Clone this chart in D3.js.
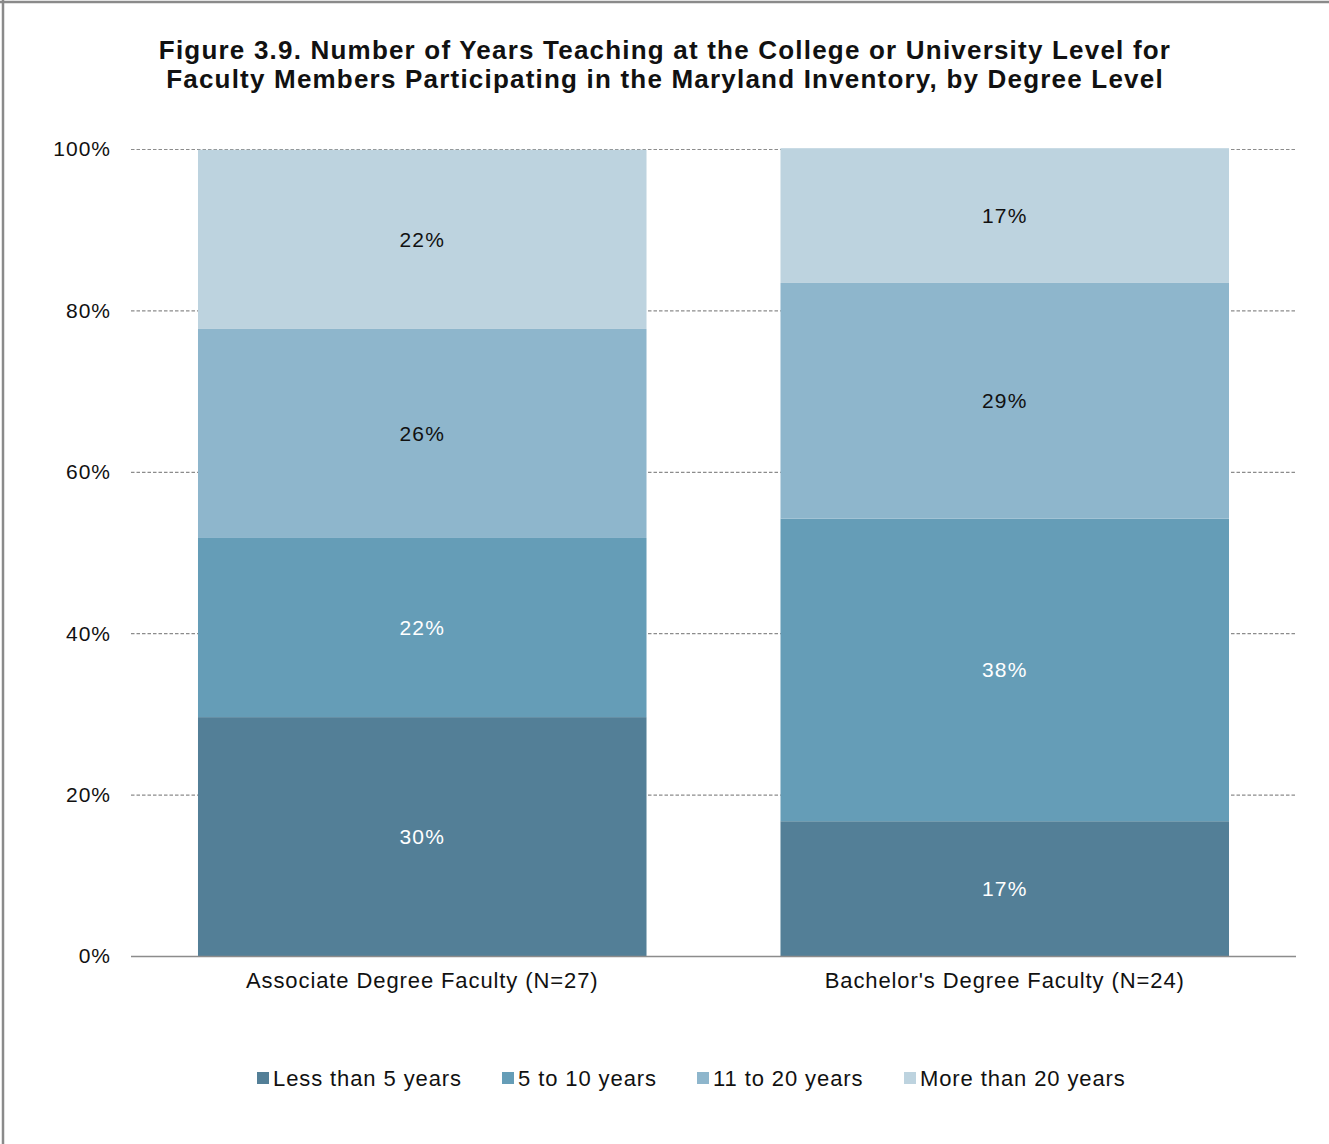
<!DOCTYPE html>
<html>
<head>
<meta charset="utf-8">
<script src="https://cdn.jsdelivr.net/npm/d3@7"></script>
<style>
  html, body { margin: 0; padding: 0; background: #fff; }
  svg { display: block; font-family: "Liberation Sans", Arial, Helvetica, sans-serif; }
</style>
</head>
<body>
<svg id="chart" width="1329" height="1144"></svg>
<script>
const categories = ["Associate Degree Faculty (N=27)", "Bachelor's Degree Faculty (N=24)"];
const seriesNames = ["Less than 5 years", "5 to 10 years", "11 to 20 years", "More than 20 years"];
const lessThan5 = [29.6, 16.7];
const fiveTo10 = [22.2, 37.5];
const elevenTo20 = [25.9, 29.2];
const moreThan20 = [22.2, 16.7];
const yTicks = [0, 20, 40, 60, 80, 100];
const titleLines = [
  "Figure 3.9. Number of Years Teaching at the College or University Level for",
  "Faculty Members Participating in the Maryland Inventory, by Degree Level"
];
const colors = ["#537f97", "#659db7", "#8eb6cc", "#bdd3df"];
const labelColors = ["#ffffff", "#ffffff", "#111111", "#111111"];

const seriesValues = [lessThan5, fiveTo10, elevenTo20, moreThan20];
const rows = categories.map((c, i) => {
  const r = { category: c };
  seriesNames.forEach((s, j) => r[s] = seriesValues[j][i]);
  return r;
});

const svg = d3.select("#chart");

// frame border (top and left visible)
svg.append("line").attr("x1", 0).attr("x2", 1329).attr("y1", 2).attr("y2", 2)
  .attr("stroke", "#8a8a8a").attr("stroke-width", 2.5);
svg.append("line").attr("x1", 3).attr("x2", 3).attr("y1", 0).attr("y2", 1144)
  .attr("stroke", "#8a8a8a").attr("stroke-width", 2.5);

// title
svg.append("text")
  .attr("x", 665).attr("y", 59)
  .attr("text-anchor", "middle")
  .attr("font-size", 26).attr("font-weight", "bold").attr("fill", "#111")
  .attr("letter-spacing", 1.2)
  .selectAll("tspan").data(titleLines).join("tspan")
  .attr("x", 665).attr("dy", (d, i) => i === 0 ? 0 : 29)
  .text(d => d);

const plotLeft = 131, plotRight = 1296, plotTop = 149, plotBottom = 956;

const x = d3.scaleBand().domain(categories).range([plotLeft, plotRight])
  .paddingInner(0.23).paddingOuter(0.115);
const y = d3.scaleLinear().domain([0, 100]).range([plotBottom, plotTop]);

// gridlines
svg.append("g").selectAll("line").data(yTicks.filter(d => d > 0)).join("line")
  .attr("x1", plotLeft).attr("x2", plotRight)
  .attr("y1", d => y(d) + 0.5).attr("y2", d => y(d) + 0.5)
  .attr("stroke", "#8c8c8c").attr("stroke-width", 1.2)
  .attr("stroke-dasharray", "3.5,2");

// y tick labels
svg.append("g").selectAll("text").data(yTicks).join("text")
  .attr("x", 111).attr("y", d => y(d))
  .attr("dy", "0.35em")
  .attr("text-anchor", "end")
  .attr("font-size", 21).attr("letter-spacing", 1).attr("fill", "#111")
  .text(d => d + "%");

// stacked bars
const stack = d3.stack().keys(seriesNames);
const stacked = stack(rows);

const layers = svg.append("g").selectAll("g").data(stacked).join("g")
  .attr("fill", (d, i) => colors[i]);
layers.selectAll("rect").data(d => d).join("rect")
  .attr("x", d => x(d.data.category))
  .attr("width", x.bandwidth())
  .attr("y", d => y(d[1]))
  .attr("height", d => y(d[0]) - y(d[1]));

// value labels
const labelLayers = svg.append("g").selectAll("g").data(stacked).join("g")
  .attr("fill", (d, i) => labelColors[i]);
labelLayers.selectAll("text").data(d => d).join("text")
  .attr("x", d => x(d.data.category) + x.bandwidth() / 2)
  .attr("y", d => y((d[0] + d[1]) / 2))
  .attr("dy", "0.35em")
  .attr("text-anchor", "middle")
  .attr("font-size", 21).attr("letter-spacing", 1.1)
  .text(d => Math.round(d[1] - d[0]) + "%");

// baseline axis
svg.append("line").attr("x1", plotLeft).attr("x2", plotRight)
  .attr("y1", plotBottom + 0.5).attr("y2", plotBottom + 0.5)
  .attr("stroke", "#8c8c8c").attr("stroke-width", 1.5);

// category labels
svg.append("g").selectAll("text").data(categories).join("text")
  .attr("x", d => x(d) + x.bandwidth() / 2)
  .attr("y", 980).attr("dy", "0.35em")
  .attr("text-anchor", "middle")
  .attr("font-size", 22).attr("letter-spacing", 0.9).attr("fill", "#111")
  .text(d => d);

// legend
const legendX = [257, 502, 697, 904];
const lg = svg.append("g").selectAll("g").data(seriesNames).join("g")
  .attr("transform", (d, i) => `translate(${legendX[i]},1078)`);
lg.append("rect").attr("x", 0).attr("y", -6).attr("width", 12).attr("height", 12)
  .attr("fill", (d, i) => colors[i]);
lg.append("text").attr("x", 16).attr("y", 0).attr("dy", "0.35em")
  .attr("font-size", 22).attr("letter-spacing", 0.9).attr("fill", "#111")
  .text(d => d);
</script>
</body>
</html>
